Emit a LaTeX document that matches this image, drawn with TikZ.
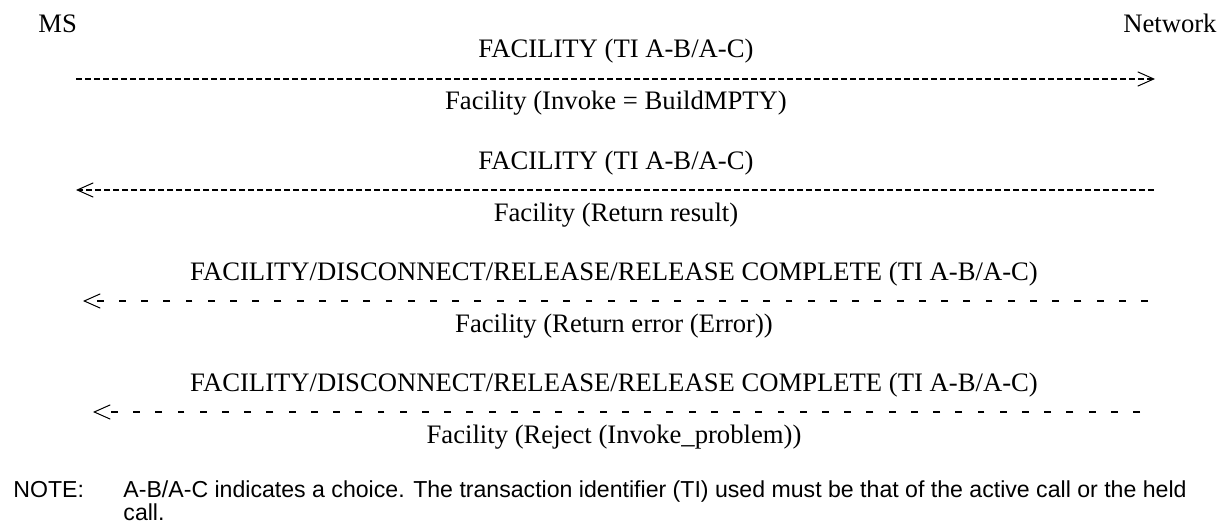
\documentclass[tikz,border=0pt]{standalone}
\usepackage{fontspec}
\setmainfont{Liberation Serif}
\newfontfamily\notefont{Liberation Sans}
\usetikzlibrary{arrows.meta}

\begin{document}
\begin{tikzpicture}[x=0.45pt,y=-0.45pt,
    lbl/.style={anchor=base,inner sep=0pt,font=\fontsize{12}{14}\selectfont},
    note/.style={anchor=base west,inner sep=0pt,font=\notefont\fontsize{10.4}{13}\selectfont},
    solidmsg/.style={line width=0.7pt,dash pattern=on 2.9pt off 1.15pt},
    optmsg/.style={line width=0.7pt,dash pattern=on 3.1pt off 6.9pt},
    chev/.tip={Straight Barb[length=7.2pt,width=6.4pt,line width=0.45pt]}]
  \useasboundingbox (0,0) rectangle (1229,526);
  %
  \node[lbl,anchor=base west] (ms) at (38,33) {MS};
  \node[lbl,anchor=base east] (net) at (1217,33) {Network};
  %
  \coordinate (ms1) at (76,79);    \coordinate (nw1) at (1155,79);
  \coordinate (ms2) at (76,190);   \coordinate (nw2) at (1154,190);
  \coordinate (ms3) at (83,301);   \coordinate (nw3) at (1148,301);
  \coordinate (ms4) at (93,412);   \coordinate (nw4) at (1140,412);
  %
  \draw[solidmsg,-chev] (ms1) -- (nw1);
  \node[lbl] (fac1) at (616,58) {FACILITY (TI A-B/A-C)};
  \node[lbl] (inv1) at (616,110) {Facility (Invoke = BuildMPTY)};
  %
  \draw[solidmsg,-chev] (nw2) -- (ms2);
  \node[lbl] (fac2) at (616,170) {FACILITY (TI A-B/A-C)};
  \node[lbl] (res2) at (616,222) {Facility (Return result)};
  %
  \draw[optmsg,-chev] (nw3) -- (ms3);
  \node[lbl] (fac3) at (614,281) {FACILITY/DISCONNECT/RELEASE/RELEASE COMPLETE (TI A-B/A-C)};
  \node[lbl] (err3) at (614,333) {Facility (Return error (Error))};
  %
  \draw[optmsg,-chev] (nw4) -- (ms4);
  \node[lbl] (fac4) at (614,392) {FACILITY/DISCONNECT/RELEASE/RELEASE COMPLETE (TI A-B/A-C)};
  \node[lbl] (rej4) at (614,444) {Facility (Reject (Invoke\_problem))};
  %
  \node[note] (notehd) at (13,498) {NOTE:};
  \node[note] (notetxt) at (123,498) {A-B/A-C indicates a choice. The transaction identifier (TI) used must be that of the active call or the held};
  \node[note] (notecall) at (123,521) {call.};
\end{tikzpicture}
\end{document}
